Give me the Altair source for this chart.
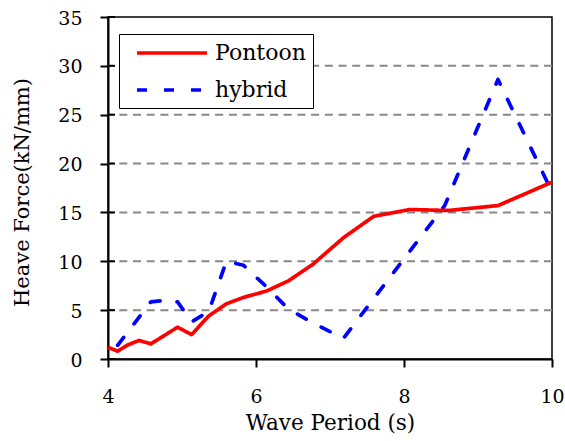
import altair as alt
import pandas as pd

# Heave force of the two platform concepts against wave period
period_pontoon = [4.0, 4.13, 4.27, 4.42, 4.58, 4.94, 5.13, 5.36, 5.60, 5.83,
                  6.14, 6.44, 6.77, 7.18, 7.59, 8.08, 8.60, 9.27, 10.0]
force_pontoon = [1.2, 0.8, 1.45, 1.9, 1.55, 3.25, 2.5, 4.4, 5.65, 6.3,
                 6.95, 8.0, 9.7, 12.4, 14.6, 15.3, 15.2, 15.7, 18.1]

period_hybrid = [4.13, 4.58, 4.76, 4.94, 5.13, 5.36, 5.60, 5.83, 6.14, 6.44,
                 6.77, 7.18, 8.55, 9.27, 10.0]
force_hybrid = [1.4, 5.85, 6.0, 5.85, 3.8, 4.85, 10.0, 9.6, 7.4, 5.1,
                3.7, 2.1, 15.7, 28.6, 17.1]

series_names = ["Pontoon", "hybrid"]
series_colors = ["#ff0000", "#0000ff"]
series_dashes = [[1, 0], [10, 17]]

x_ticks = [4, 6, 8, 10]
y_ticks = [0, 5, 10, 15, 20, 25, 30, 35]
grid_values = [5, 10, 15, 20, 25, 30]

FONT = "DejaVu Serif"

df_pontoon = pd.DataFrame({"period": period_pontoon, "force": force_pontoon,
                           "series": series_names[0]})
df_hybrid = pd.DataFrame({"period": period_hybrid, "force": force_hybrid,
                          "series": series_names[1]})
df_grid = pd.DataFrame({"force": grid_values})
df_ticks = pd.DataFrame({"force": y_ticks})

x_enc = alt.X(
    "period:Q",
    scale=alt.Scale(domain=[4, 10], nice=False, zero=False),
    axis=alt.Axis(values=x_ticks, format="d", grid=False, tickSize=8,
                  labelFontSize=19, labelPadding=35, labelBaseline="alphabetic",
                  labelFlush=False,
                  title="Wave Period (s)", titleFontSize=21.5, titleY=70,
                  titleBaseline="alphabetic"),
)
y_enc = alt.Y(
    "force:Q",
    scale=alt.Scale(domain=[0, 35], nice=False),
    axis=alt.Axis(values=y_ticks, grid=False, tickSize=8, labelFontSize=19,
                  labelPadding=18, labelOffset=1, labelFlush=False,
                  title="Heave Force(kN/mm)", titleFontSize=21, titleX=-86,
                  titleY=175, titleAngle=270, titleBaseline="middle",
                  titleAlign="center"),
)

# legend swatch: a 70px horizontal stroke drawn to the right of the symbol centre
legend = alt.Legend(
    title=None, orient="none", legendX=11, legendY=17,
    symbolType="M -0.1,0 L 6.9,0", symbolSize=400, symbolStrokeWidth=3.7,
    labelFont=FONT, labelFontSize=22, labelColor="black", labelOffset=65,
    strokeColor="black", fillColor="white", padding=7, rowPadding=14,
)
color_enc = alt.Color("series:N",
                      scale=alt.Scale(domain=series_names, range=series_colors),
                      legend=legend)
dash_enc = alt.StrokeDash("series:N",
                          scale=alt.Scale(domain=series_names, range=series_dashes),
                          legend=legend)

grid = alt.Chart(df_grid).mark_rule(
    color="#888888", strokeWidth=2, strokeDash=[8, 5.7]
).encode(y=y_enc)

hybrid_line = alt.Chart(df_hybrid).mark_line(
    strokeWidth=3.7, strokeCap="round", strokeJoin="round"
).encode(x=x_enc, y=y_enc, color=color_enc, strokeDash=dash_enc)

pontoon_line = alt.Chart(df_pontoon).mark_line(
    strokeWidth=3.7, strokeJoin="round"
).encode(x=x_enc, y=y_enc, color=color_enc, strokeDash=dash_enc)

inner_ticks = alt.Chart(df_ticks).mark_rule(color="black", strokeWidth=2).encode(
    y=y_enc, x=alt.value(0), x2=alt.value(7)
)

chart = alt.layer(grid, hybrid_line, pontoon_line, inner_ticks).properties(
    width=444, height=342,
    autosize=alt.AutoSizeParams(type="none"),
    padding={"left": 108, "top": 17, "right": 13, "bottom": 82},
    background="white",
).configure_view(
    stroke="black", strokeWidth=1.5
).configure_axis(
    domainColor="black", domainWidth=2, tickColor="black", tickWidth=2,
    labelFont=FONT, titleFont=FONT, labelColor="black", titleColor="black",
    titleFontWeight="normal",
)

chart.save("out.html", embed_options={"renderer": "svg", "actions": False})
